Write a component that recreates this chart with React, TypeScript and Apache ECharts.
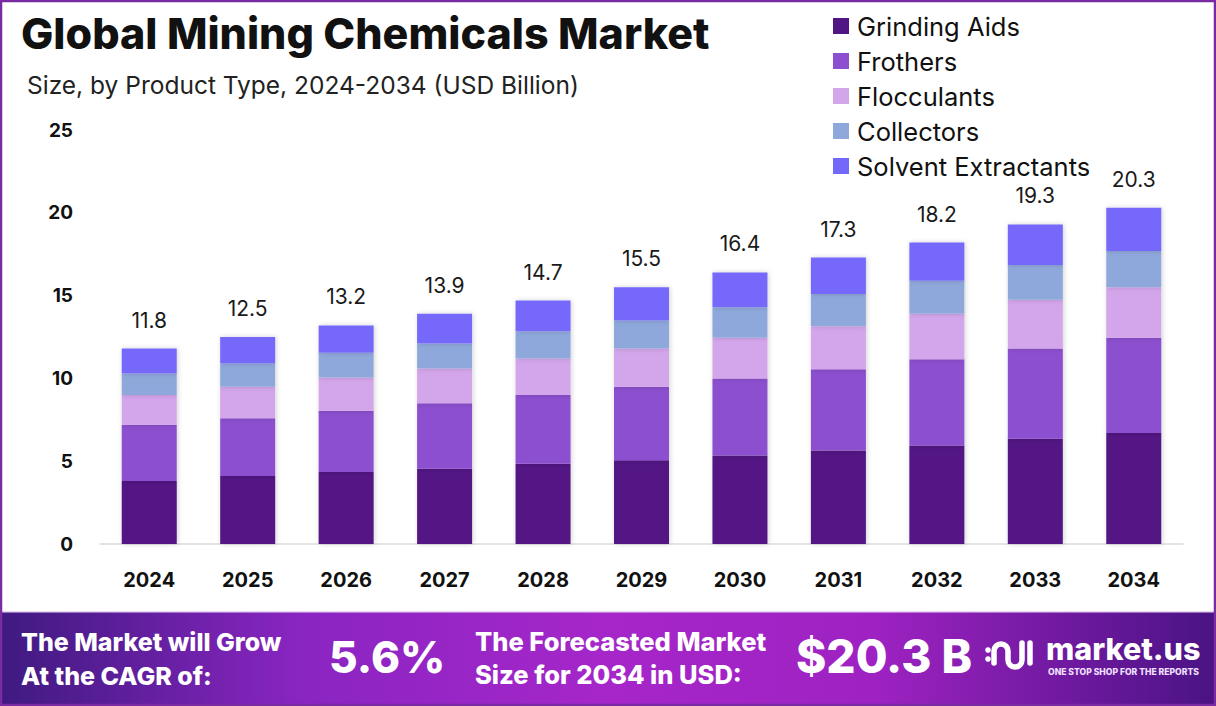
import React, { useEffect, useRef } from "react";
import * as echarts from "echarts";

const years = ["2024", "2025", "2026", "2027", "2028", "2029", "2030", "2031", "2032", "2033", "2034"];
const grindingAids = [3.8, 4.1, 4.35, 4.55, 4.85, 5.05, 5.35, 5.65, 5.95, 6.35, 6.7];
const frothers = [3.4, 3.5, 3.7, 3.95, 4.15, 4.45, 4.65, 4.9, 5.2, 5.45, 5.75];
const flocculants = [1.8, 1.9, 2.0, 2.1, 2.2, 2.3, 2.45, 2.6, 2.75, 2.95, 3.05];
const collectors = [1.3, 1.4, 1.5, 1.5, 1.65, 1.7, 1.85, 1.95, 2.0, 2.1, 2.2];
const solventExtractants = [1.5, 1.6, 1.65, 1.8, 1.85, 2.0, 2.1, 2.2, 2.3, 2.45, 2.6];
const totals = [11.8, 12.5, 13.2, 13.9, 14.7, 15.5, 16.4, 17.3, 18.2, 19.3, 20.3];
const yTicks = [0, 5, 10, 15, 20, 25];

const seriesDefs = [
  { name: "Grinding Aids", data: grindingAids, color: "#521684" },
  { name: "Frothers", data: frothers, color: "#8c4fcf" },
  { name: "Flocculants", data: flocculants, color: "#d3a5eb" },
  { name: "Collectors", data: collectors, color: "#8fa8db" },
  { name: "Solvent Extractants", data: solventExtractants, color: "#7468fb" },
];

const FONT = "Inter, 'Open Sans', sans-serif";

const logoPath =
  "M9 24 L9 12 A7 7 0 0 1 23 12 L23 21 A7 7 0 0 0 37 21 L37 4 M45 4 L45 24";

export default function App() {
  const ref = useRef<HTMLDivElement>(null);
  useEffect(() => {
    if (!ref.current) return;
    try {
      echarts.graphic.registerShape("mlogo", echarts.graphic.extendPath(logoPath, {}));
    } catch (e) {}
    const chart = echarts.init(ref.current, null, { renderer: "svg" });
    const last = seriesDefs.length - 1;
    const whiteText = (text: string, x: number, y: number, size: number, extra: any = {}) => ({
      type: "text",
      x,
      y,
      z: 12,
      style: {
        text,
        fontSize: size,
        fontWeight: 800,
        fontFamily: FONT,
        fill: "#fff",
        verticalAlign: "middle",
        ...extra,
      },
    });
    const option: any = {
      animation: false,
      backgroundColor: "#ffffff",
      textStyle: { fontFamily: FONT },
      grid: { left: 100, right: 33, top: 130, bottom: 162 },
      legend: {
        orient: "vertical",
        left: 828,
        top: 8,
        itemWidth: 16,
        itemHeight: 16,
        itemGap: 9,
        icon: "rect",
        data: seriesDefs.map((s) => s.name),
        textStyle: { fontSize: 25.5, color: "#111", fontFamily: FONT, lineHeight: 26, padding: [0, 0, 0, 3] },
      },
      xAxis: {
        type: "category",
        data: years,
        axisLine: { show: true, lineStyle: { color: "#dcdcdc", width: 1.5 } },
        axisTick: { show: false },
        axisLabel: { margin: 26, fontSize: 20, fontWeight: "bold", color: "#111", fontFamily: FONT },
      },
      yAxis: {
        type: "value",
        min: yTicks[0],
        max: yTicks[yTicks.length - 1],
        interval: 5,
        splitLine: { show: false },
        axisLine: { show: false },
        axisTick: { show: false },
        axisLabel: { margin: 27, fontSize: 19, fontWeight: "bold", color: "#111", fontFamily: FONT },
      },
      series: seriesDefs.map((s, i) => ({
        name: s.name,
        type: "bar",
        stack: "total",
        barWidth: 55,
        data: s.data,
        itemStyle: {
          color: s.color,
          shadowBlur: 5,
          shadowColor: "rgba(0,0,0,0.18)",
          shadowOffsetX: 1,
        },
        label:
          i === last
            ? {
                show: true,
                position: "top",
                distance: 18,
                fontSize: 21,
                color: "#1a1a1a",
                fontFamily: FONT,
                formatter: (p: any) => totals[p.dataIndex].toFixed(1),
              }
            : { show: false },
      })),
      graphic: [
        {
          type: "text",
          left: 21,
          top: 11,
          style: {
            text: "Global Mining Chemicals Market",
            fontSize: 43,
            fontWeight: 800,
            fontFamily: FONT,
            fill: "#111",
          },
        },
        {
          type: "text",
          left: 27,
          top: 72,
          style: {
            text: "Size, by Product Type, 2024-2034 (USD Billion)",
            fontSize: 24.5,
            fontWeight: 400,
            fontFamily: FONT,
            fill: "#222",
          },
        },
        {
          type: "rect",
          shape: { x: 0, y: 612, width: 1216, height: 94 },
          style: {
            fill: new echarts.graphic.LinearGradient(0, 0, 1, 0, [
              { offset: 0, color: "#3f1a80" },
              { offset: 0.25, color: "#8a25c2" },
              { offset: 0.5, color: "#a626c9" },
              { offset: 0.72, color: "#9e22c2" },
              { offset: 1, color: "#4a1384" },
            ]),
          },
          z: 10,
        },
        {
          type: "rect",
          shape: { x: 0, y: 611, width: 1216, height: 1.5 },
          style: { fill: "#e8d6f2" },
          z: 11,
        },
        whiteText("The Market will Grow", 21, 642, 25),
        whiteText("At the CAGR of:", 21, 676, 25),
        whiteText("5.6%", 329, 657, 44, {
          shadowColor: "rgba(40,0,60,0.5)",
          shadowBlur: 4,
          shadowOffsetY: 2,
        }),
        whiteText("The Forecasted Market", 475, 641, 25.5),
        whiteText("Size for 2034 in USD:", 475, 674, 25.5),
        whiteText("$20.3 B", 796, 656, 46, {
          shadowColor: "rgba(40,0,60,0.5)",
          shadowBlur: 4,
          shadowOffsetY: 2,
        }),
        {
          type: "circle",
          shape: { cx: 988, cy: 650, r: 2.8 },
          style: { fill: "#fff" },
          z: 12,
        },
        {
          type: "circle",
          shape: { cx: 988, cy: 659, r: 2.8 },
          style: { fill: "#fff" },
          z: 12,
        },
        {
          type: "mlogo",
          x: 985,
          y: 639,
          z: 12,
          style: { fill: "none", stroke: "#fff", lineWidth: 5.5, lineCap: "round", lineJoin: "round" },
        },
        whiteText("market.us", 1046, 648, 30.5),
        whiteText("ONE STOP SHOP FOR THE REPORTS", 1048, 671.5, 8.6, { fill: "#f0e0ff" }),
        {
          type: "rect",
          shape: { x: 1, y: 1, width: 1214, height: 704 },
          style: { fill: "none", stroke: "#7a2aa3", lineWidth: 2.5 },
          z: 20,
        },
      ],
    };
    chart.setOption(option);
    return () => chart.dispose();
  }, []);
  return (
    <div
      ref={ref}
      style={{ position: "fixed", left: 0, top: 0, width: 1216, height: 706, background: "#fff" }}
    />
  );
}
